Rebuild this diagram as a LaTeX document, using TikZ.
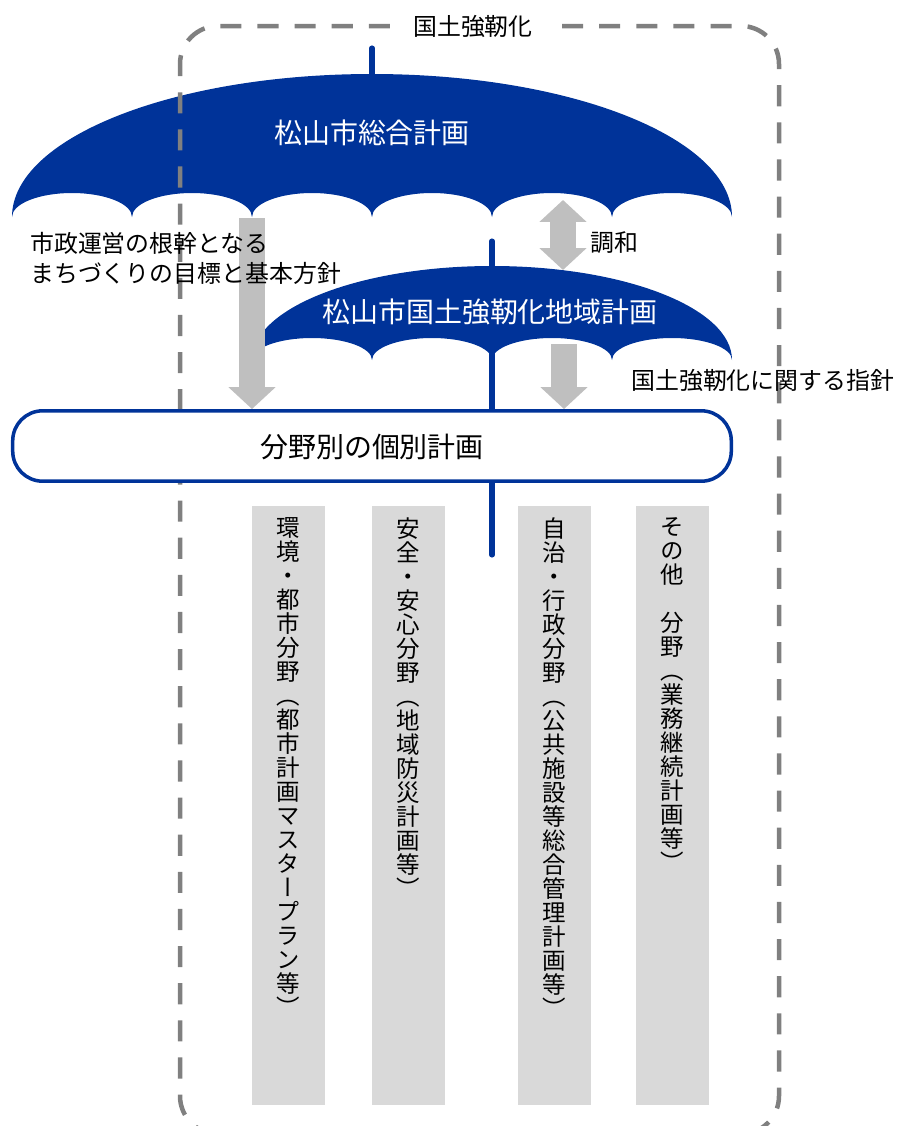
\documentclass[tikz,border=0pt]{standalone}
\usepackage{fontspec}
\setmainfont{Noto Sans CJK JP}
\newfontfamily\tatefont[RawFeature=+vert]{Noto Sans CJK JP}
\usetikzlibrary{positioning,arrows.meta}

\definecolor{umblue}{RGB}{0,51,153}
\definecolor{arrowgray}{RGB}{191,191,191}
\definecolor{bargray}{RGB}{217,217,217}
\definecolor{framegray}{RGB}{128,128,128}

\makeatletter
\newcommand\tate[1]{\vtop{\tatefont\fontsize{16.7pt}{17.07pt}\selectfont
  \baselineskip=17.07pt\lineskiplimit=-100pt\lineskip=0pt
  \@tfor\tatech:=#1\do{\hbox to 17.07pt{\hss\tatech\hss}}}}
\makeatother

\tikzset{
  canopy/.style={fill=umblue},
  handle/.style={draw=umblue,line width=3.6pt,line cap=round},
  frame/.style={draw=framegray,line width=3.2pt,dash pattern=on 15pt off 11.4pt,rounded corners=0.95cm},
  grayarrow/.style={draw=arrowgray,line width=17.8pt,-{Triangle[width=32.7pt,length=15.6pt]}},
  dblarrow/.style={draw=arrowgray,line width=17.8pt,{Triangle[width=32.7pt,length=15.6pt]}-{Triangle[width=32.7pt,length=15.6pt]}},
  planbox/.style={draw=umblue,line width=2.5pt,fill=white,rounded corners=0.75cm,minimum width=17.96cm,minimum height=1.76cm},
  bar/.style={fill=bargray,minimum width=1.825cm,minimum height=14.975cm,inner sep=0pt},
  txt/.style={inner sep=0pt,font=\fontsize{17pt}{21.3pt}\selectfont},
  bigtxt/.style={inner sep=0pt,text=white,font=\fontsize{19.9pt}{24pt}\selectfont},
  tatetxt/.style={inner sep=0pt,anchor=north}
}

\begin{document}
\begin{tikzpicture}[x=0.025cm,y=0.025cm]
\useasboundingbox (0,0) rectangle (896,-1126);
\clip (0,0) rectangle (896,-1126);

\coordinate (sogo-top) at (372,-48);
\coordinate (sogo-c) at (372,-120);
\coordinate (chiiki-top) at (492,-241);
\coordinate (chiiki-end) at (492,-555);
\draw[handle] (sogo-top) -- (sogo-c);
\fill[canopy] (12,-217) arc[start angle=180,end angle=0,x radius=360,y radius=143]
  arc[start angle=0,end angle=180,x radius=60,y radius=24]
  arc[start angle=0,end angle=180,x radius=60,y radius=24]
  arc[start angle=0,end angle=180,x radius=60,y radius=24]
  arc[start angle=0,end angle=180,x radius=60,y radius=24]
  arc[start angle=0,end angle=180,x radius=60,y radius=24]
  arc[start angle=0,end angle=180,x radius=60,y radius=24] -- cycle;
\node[bigtxt] (sogo) at (372,-133) {松山市総合計画};

\draw[handle] (chiiki-top) -- (chiiki-end);
\fill[canopy] (252,-360) arc[start angle=180,end angle=0,x radius=240,y radius=94]
  arc[start angle=0,end angle=180,x radius=60,y radius=22]
  arc[start angle=0,end angle=180,x radius=60,y radius=22]
  arc[start angle=0,end angle=180,x radius=60,y radius=22]
  arc[start angle=0,end angle=180,x radius=60,y radius=22] -- cycle;
\node[bigtxt] (chiiki) at (490,-312) {松山市国土強靭化地域計画};

\node[txt,inner xsep=0.575cm] (kyojin) at (473,-26) {国土強靭化};
\draw[frame] (kyojin.west) -- (180,-26) -- (180,-1134) -- (779,-1134) -- (779,-26) -- (kyojin.east);

\node[planbox] (kobetsu) at (372,-446) {};
\node[bigtxt,text=black] (kobetsu-t) at (372,-447) {分野別の個別計画};

\coordinate (sogo-l) at (252,-218);
\coordinate (chowa-t) at (563,-200);
\coordinate (chowa-b) at (563,-270);
\coordinate (chiiki-r) at (564,-344);
\draw[grayarrow] (sogo-l) -- (sogo-l |- kobetsu.north);
\draw[grayarrow] (chiiki-r) -- (chiiki-r |- kobetsu.north);
\draw[dblarrow] (chowa-t) -- (chowa-b);

\node[txt,align=left,anchor=west] (konkan) at (30,-258) {市政運営の根幹となる\\まちづくりの目標と基本方針};
\node[txt,anchor=west] (chowa) at (590,-243) {調和};
\node[txt,anchor=west] (shishin) at (631,-380) {国土強靭化に関する指針};

\node[bar] (kankyo) at (288.5,-805.5) {};
\node[bar] (anzen) at (408.5,-805.5) {};
\node[bar] (jichi) at (554.5,-805.5) {};
\node[bar] (sonota) at (672.5,-805.5) {};
\node[tatetxt,below=0.3cm of kankyo.north] (kankyo-t) {\tate{環境・都市分野（都市計画マスタープラン等）}};
\node[tatetxt,below=0.3cm of anzen.north] (anzen-t) {\tate{安全・安心分野（地域防災計画等）}};
\node[tatetxt,below=0.3cm of jichi.north] (jichi-t) {\tate{自治・行政分野（公共施設等総合管理計画等）}};
\node[tatetxt,below=0.3cm of sonota.north] (sonota-t) {\tate{その他　分野（業務継続計画等）}};
\end{tikzpicture}
\end{document}
